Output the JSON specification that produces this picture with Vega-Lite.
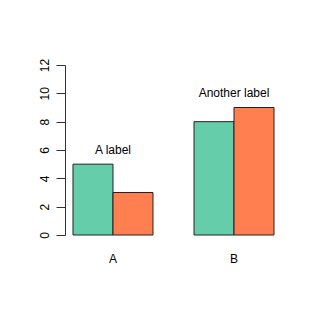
{
  "$schema": "https://vega.github.io/schema/vega-lite/v6.json",
  "autosize": "none",
  "width": 217,
  "height": 170,
  "padding": {"left": 65, "top": 65, "right": 35, "bottom": 82},
  "background": "white",
  "config": {"view": {"stroke": null}, "font": "Liberation Sans"},
  "datasets": {
    "bars": [
      {"group": "A", "series": "s1", "value": 5},
      {"group": "A", "series": "s2", "value": 3},
      {"group": "B", "series": "s1", "value": 8},
      {"group": "B", "series": "s2", "value": 9}
    ],
    "labels": [
      {"group": "A", "label": "A label", "y": 6},
      {"group": "B", "label": "Another label", "y": 10}
    ]
  },
  "layer": [
    {
      "data": {"name": "bars"},
      "mark": {"type": "bar", "stroke": "#222", "strokeWidth": 1},
      "encoding": {
        "x": {
          "field": "group", "type": "nominal",
          "scale": {"paddingInner": 0.339, "paddingOuter": 0.066},
          "axis": {"title": null, "domain": false, "ticks": false, "tickSize": 0, "labelAngle": 0, "labelFontSize": 12, "labelColor": "black", "labelPadding": 18}
        },
        "xOffset": {"field": "series", "type": "nominal", "scale": {"paddingInner": 0, "paddingOuter": 0}},
        "y": {
          "field": "value", "type": "quantitative",
          "scale": {"domain": [0, 12], "nice": false},
          "axis": {"title": null, "grid": false, "values": [0, 2, 4, 6, 8, 10, 12], "labelAngle": -90, "labelFontSize": 12, "labelColor": "black", "domainColor": "#333", "tickColor": "#333", "tickSize": 9, "labelPadding": 5, "labelOverlap": false, "labelFlush": false}
        },
        "color": {
          "field": "series", "type": "nominal",
          "scale": {"domain": ["s1", "s2"], "range": ["#66CDAA", "#FF7F50"]},
          "legend": null
        }
      }
    },
    {
      "data": {"name": "labels"},
      "mark": {"type": "text", "fontSize": 12, "color": "black", "baseline": "middle", "align": "center"},
      "encoding": {
        "x": {
          "field": "group", "type": "nominal",
          "axis": {"title": null, "domain": false, "ticks": false, "tickSize": 0, "labelAngle": 0, "labelFontSize": 12, "labelColor": "black", "labelPadding": 18}
        },
        "y": {
          "field": "y", "type": "quantitative",
          "axis": {"title": null, "grid": false, "values": [0, 2, 4, 6, 8, 10, 12], "labelAngle": -90, "labelFontSize": 12, "labelColor": "black", "domainColor": "#333", "tickColor": "#333", "tickSize": 9, "labelPadding": 5, "labelOverlap": false, "labelFlush": false}
        },
        "text": {"field": "label"}
      }
    }
  ]
}
